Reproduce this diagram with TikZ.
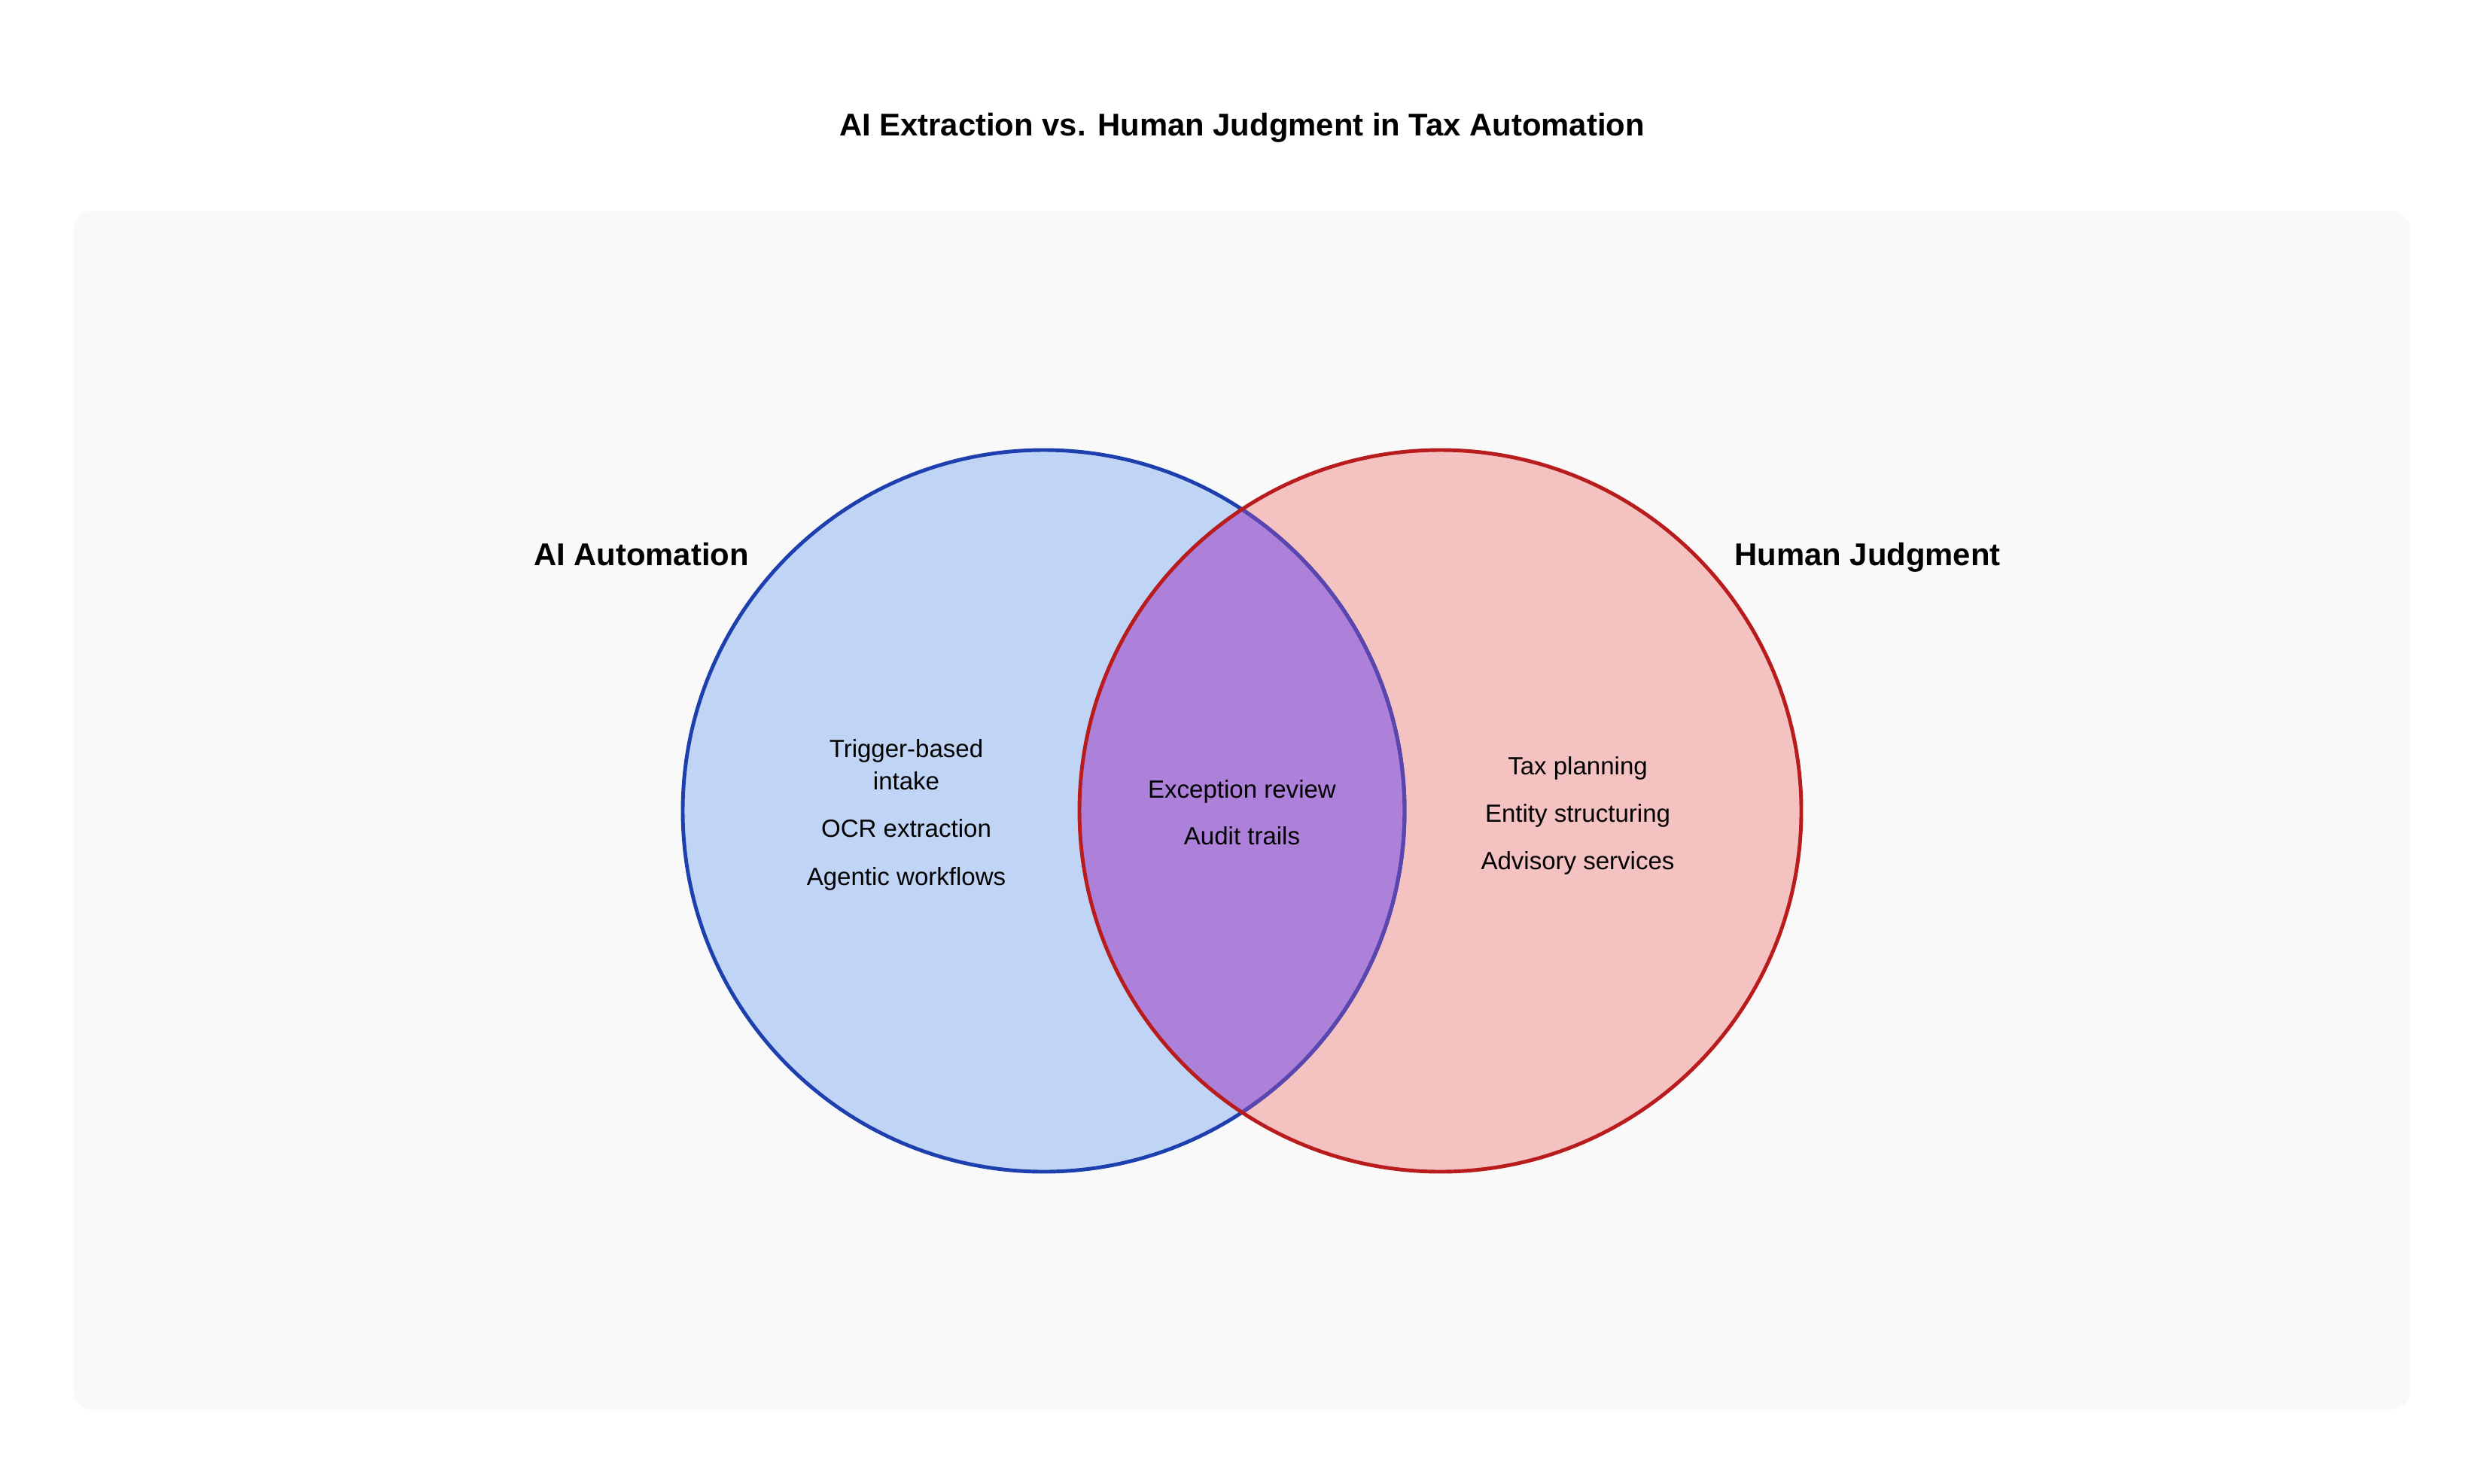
\documentclass[tikz,border=0pt]{standalone}
\usepackage{fontspec}
\setmainfont{Liberation Sans}
\usepackage{tikz}
\definecolor{aiblue}{HTML}{1E40AF}
\definecolor{aifill}{HTML}{C0D5F5}
\definecolor{hured}{HTML}{B91C1C}
\definecolor{hufill}{HTML}{F5C2C2}
\definecolor{mixfill}{HTML}{AD81D9}
\definecolor{mixedge}{HTML}{5B46B0}
\definecolor{panelbg}{HTML}{F9F9F9}
\tikzset{
  vtitle/.style={font=\fontsize{11.9}{14}\selectfont\bfseries},
  setlabel/.style={font=\fontsize{11.9}{14}\selectfont\bfseries},
  item/.style={font=\fontsize{9.4}{12.2}\selectfont, align=center, inner sep=0pt},
  vset/.style={line width=1.4pt},
}

\begin{document}
\begin{tikzpicture}
    \useasboundingbox (0,0) rectangle (33,-19.71);
    \fill[panelbg, rounded corners=0.25cm] (0.97,-2.80) rectangle (32.02,-18.73);
    \node[vtitle] (title) at (16.5,-1.70) {AI Extraction vs. Human Judgment in Tax Automation};
    \coordinate (ai) at (13.865,-10.775);
    \coordinate (hu) at (19.135,-10.775);
    \fill[aifill] (ai) circle (4.795);
    \fill[hufill] (hu) circle (4.795);
    \begin{scope}
      \clip (ai) circle (4.795);
      \fill[mixfill] (hu) circle (4.795);
    \end{scope}
    \draw[vset, aiblue] (ai) circle (4.795);
    \begin{scope}
      \clip (hu) circle (4.795);
      \draw[vset, mixedge] (ai) circle (4.795);
    \end{scope}
    \draw[vset, hured] (hu) circle (4.795);
    \node[setlabel] (ailabel) at (8.52,-7.37)  {AI Automation};
    \node[setlabel] (hulabel) at (24.81,-7.41) {Human Judgment};
    \node[item] (trigger)  at (12.04,-10.165) {Trigger-based\\intake};
    \node[item] (ocr)      at (12.04,-11.01)  {OCR extraction};
    \node[item] (agentic)  at (12.04,-11.68)  {Agentic workflows};
    \node[item] (except)   at (16.5,-10.52)   {Exception review};
    \node[item] (audit)    at (16.5,-11.11)   {Audit trails};
    \node[item] (taxplan)  at (20.96,-10.21)  {Tax planning};
    \node[item] (entity)   at (20.96,-10.84)  {Entity structuring};
    \node[item] (advisory) at (20.96,-11.47)  {Advisory services};
\end{tikzpicture}
\end{document}
